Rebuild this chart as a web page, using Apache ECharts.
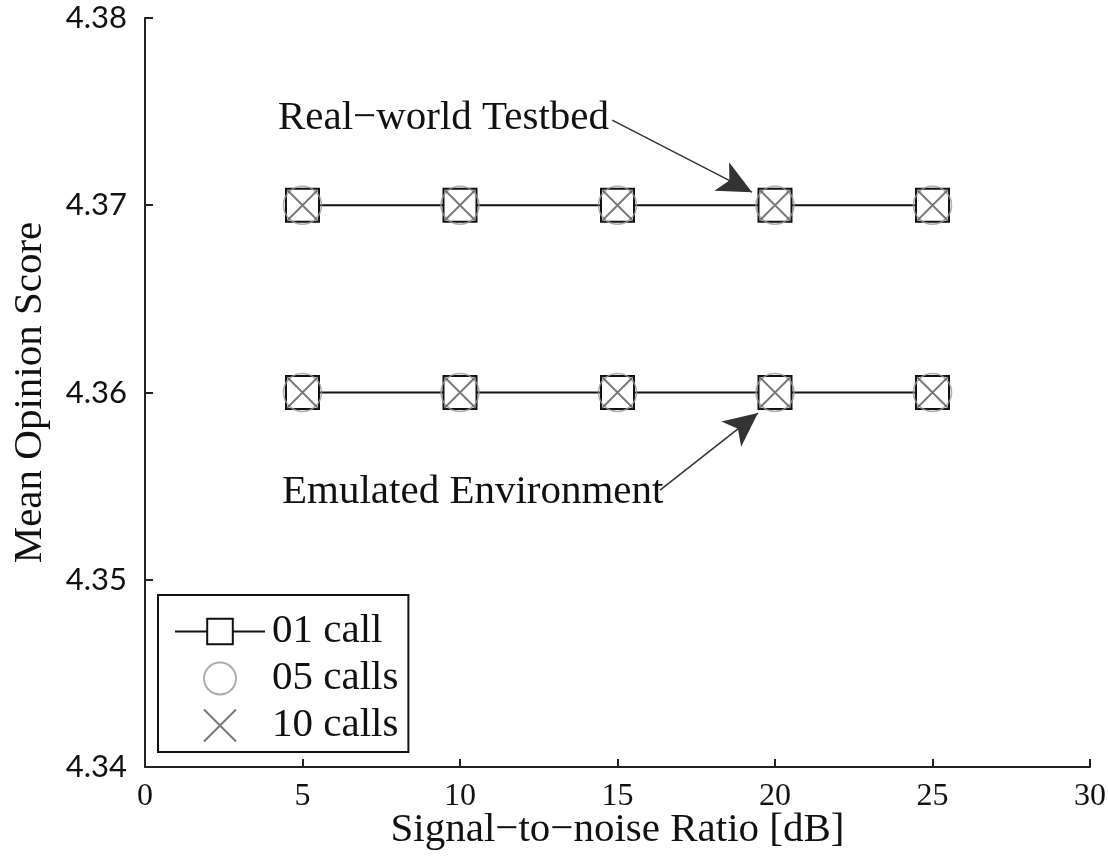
<!DOCTYPE html>
<html><head><meta charset="utf-8">
<script src="https://cdn.jsdelivr.net/npm/echarts@6/dist/echarts.min.js"></script>
<style>html,body{margin:0;padding:0;background:#fff}#c{width:1108px;height:856px}</style>
</head><body><div id="c"></div>
<script>
var snr = [5, 10, 15, 20, 25];
var realOne = [4.37, 4.37, 4.37, 4.37, 4.37];
var realFive = [4.37, 4.37, 4.37, 4.37, 4.37];
var realTen = [4.37, 4.37, 4.37, 4.37, 4.37];
var emuOne = [4.36, 4.36, 4.36, 4.36, 4.36];
var emuFive = [4.36, 4.36, 4.36, 4.36, 4.36];
var emuTen = [4.36, 4.36, 4.36, 4.36, 4.36];
var seriesNames = ['01 call', '05 calls', '10 calls'];
var annoReal = {text: 'Real\u2212world Testbed', at: [4.22, 4.37466], from: [14.83, 4.37455], to: [19.27, 4.37070]};
var annoEmu = {text: 'Emulated Environment', at: [4.35, 4.35469], from: [16.35, 4.35479], to: [19.46, 4.35890]};

var SERIF = '"Liberation Serif", "DejaVu Serif", serif';
var SANS = 'Lato, "Open Sans", sans-serif';
function pairs(ys){ return snr.map(function(x,i){ return [x, ys[i]]; }); }
var xPath = 'path://M0,0L10,10M10,0L0,10';

function lineSeries(ys){
  return {name: seriesNames[0], type: 'line', data: pairs(ys), symbol: 'rect', symbolSize: 33,
    lineStyle: {color: '#111', width: 2}, itemStyle: {color: '#fff', borderColor: '#111', borderWidth: 2},
    z: 2, animation: false};
}
function circSeries(ys){
  return {name: seriesNames[1], type: 'scatter', data: pairs(ys), symbol: 'circle', symbolSize: 38,
    itemStyle: {color: 'rgba(255,255,255,0)', borderColor: '#9a9a9a', borderWidth: 1.6}, z: 3, animation: false};
}
function xSeries(ys){
  return {name: seriesNames[2], type: 'scatter', data: pairs(ys), symbol: xPath, symbolSize: 31,
    itemStyle: {color: 'rgba(255,255,255,0)', borderColor: '#555', borderWidth: 1.8}, z: 4, animation: false};
}
function arrowLine(a){
  return [{coord: a.from}, {coord: a.to}];
}

var chart = echarts.init(document.getElementById('c'));
var s0 = lineSeries(realOne);
s0.markLine = {silent: true, animation: false, symbol: ['none', 'arrow'], symbolSize: [24, 34],
  lineStyle: {color: '#333', width: 1.5, type: 'solid'}, label: {show: false},
  emphasis: {disabled: true},
  data: [arrowLine(annoReal), arrowLine(annoEmu)]};
var option = {
  backgroundColor: '#fff',
  animation: false,
  grid: {left: 145, right: 18, top: 18, bottom: 89, outerBoundsMode: 'none', containLabel: false},
  xAxis: {type: 'value', min: 0, max: 30, interval: 5,
    name: 'Signal\u2212to\u2212noise Ratio [dB]', nameLocation: 'middle', nameGap: 43, nameMoveOverlap: false,
    nameTextStyle: {fontFamily: SERIF, fontSize: 41, color: '#111'},
    axisLine: {lineStyle: {color: '#222', width: 2}},
    axisTick: {inside: true, length: 8, lineStyle: {color: '#222', width: 2}},
    axisLabel: {fontFamily: SERIF, fontSize: 32, color: '#111', margin: 14},
    splitLine: {show: false}},
  yAxis: {type: 'value', min: 4.34, max: 4.38, interval: 0.01,
    name: 'Mean Opinion Score', nameLocation: 'middle', nameGap: 94, nameMoveOverlap: false,
    nameTextStyle: {fontFamily: SERIF, fontSize: 41, color: '#111'},
    axisLine: {show: true, lineStyle: {color: '#222', width: 2}},
    axisTick: {show: true, inside: true, length: 8, lineStyle: {color: '#222', width: 2}},
    axisLabel: {fontFamily: SANS, fontSize: 31, color: '#111', margin: 18, padding: [8, 0, 0, 0],
      formatter: function(v){ return v.toFixed(2); }},
    splitLine: {show: false}},
  legend: {orient: 'vertical', left: 158, top: 595, width: 252,
    data: seriesNames, itemWidth: 90, itemHeight: 32, itemGap: 6,
    padding: [16, 10, 6, 16],
    borderColor: '#111', borderWidth: 2, backgroundColor: '#fff',
    textStyle: {fontFamily: SERIF, fontSize: 41, lineHeight: 32, color: '#111', padding: [0,0,0,2]}},
  series: [s0, lineSeries(emuOne), circSeries(realFive), circSeries(emuFive), xSeries(realTen), xSeries(emuTen)]
};
chart.setOption(option);
function place(a){
  var p = chart.convertToPixel({gridIndex: 0}, a.at);
  return {type: 'text', x: p[0], y: p[1], z: 10,
    style: {text: a.text, fontFamily: SERIF, fontSize: 41, fill: '#111', verticalAlign: 'middle', align: 'left'}};
}
chart.setOption({graphic: [place(annoReal), place(annoEmu)]});
</script></body></html>
